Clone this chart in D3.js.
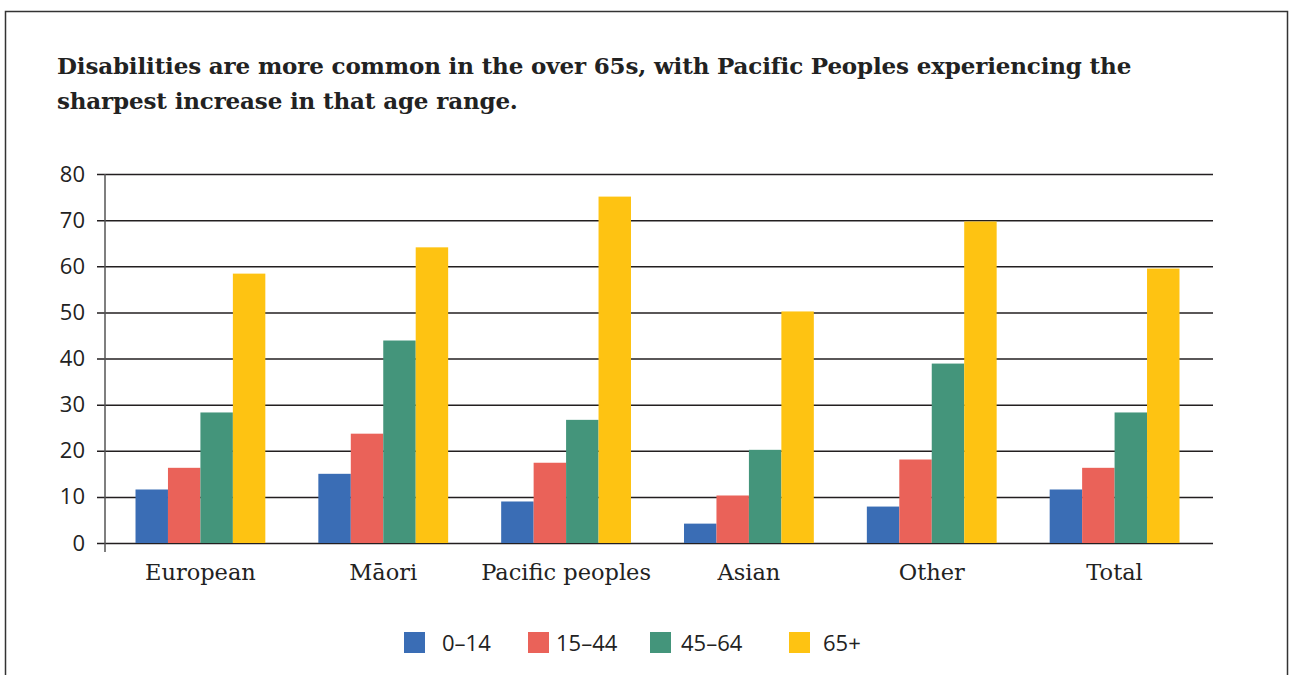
<!DOCTYPE html>
<html>
<head>
<meta charset="utf-8">
<script src="https://cdn.jsdelivr.net/npm/d3@7"></script>
<style>
  body { margin: 0; background: #fff; }
  svg { display: block; }
</style>
</head>
<body>
<div id="chart"></div>
<script>
const categories = ['European', 'Māori', 'Pacific peoples', 'Asian', 'Other', 'Total']
const ageGroups = ['0-14', '15-44', '45-64', '65+']
const age0to14 = [11.6, 15.0, 9.0, 4.2, 7.9, 11.6]
const age15to44 = [16.3, 23.7, 17.4, 10.3, 18.1, 16.3]
const age45to64 = [28.3, 43.9, 26.7, 20.2, 38.9, 28.3]
const age65plus = [58.4, 64.1, 75.1, 50.2, 69.7, 59.5]
const yTicks = [0, 10, 20, 30, 40, 50, 60, 70, 80]
const colors = ['#3a6db5', '#ea6259', '#44957b', '#fec312']

const seriesValues = [age0to14, age15to44, age45to64, age65plus]

function bar_chart(root) {
  const width = 1290,
    height = 675

  const rows = categories.map((name, i) => ({
    name: name,
    values: ageGroups.map((g, j) => ({ group: g, value: seriesValues[j][i] })),
  }))

  const svg = d3
    .select(document.querySelector(`#${root}`))
    .append('svg')
    .attr('width', width)
    .attr('height', height)

  // outer frame
  svg.append('rect')
    .attr('x', 5.5)
    .attr('y', 11.5)
    .attr('width', 1282)
    .attr('height', 700)
    .attr('fill', 'none')
    .attr('stroke', '#333')
    .attr('stroke-width', 1.5)

  // title
  const title = svg.append('text')
    .attr('x', 57)
    .attr('y', 74)
    .attr('font-family', '"DejaVu Serif", serif')
    .attr('font-weight', 'bold')
    .attr('font-size', 23)
    .attr('letter-spacing', -0.15)
    .attr('fill', '#222')
  title.append('tspan').attr('x', 57).attr('dy', 0)
    .text('Disabilities are more common in the over 65s, with Pacific Peoples experiencing the')
  title.append('tspan').attr('x', 57).attr('dy', 35)
    .text('sharpest increase in that age range.')

  const left = 105, right = 1213, gridLeft = 97

  const y = d3.scaleLinear().domain([0, 80]).range([543, 174])

  const x0 = d3.scaleBand()
    .domain(categories)
    .range([109, 1206])
    .paddingInner(0.29)
    .paddingOuter(0.145)

  const x1 = d3.scaleBand()
    .domain(ageGroups)
    .range([0, x0.bandwidth()])

  const color = d3.scaleOrdinal().domain(ageGroups).range(colors)

  // gridlines + y labels
  const yAxis = svg.append('g')
    .attr('transform', `translate(${right}, 0)`)
    .call(d3.axisLeft(y).tickValues(yTicks).tickSize(right - gridLeft).tickPadding(12))
  yAxis.select('.domain').remove()
  yAxis.selectAll('line').attr('stroke', '#231f20').attr('stroke-width', 1.5)
  yAxis.selectAll('text')
    .attr('font-family', '"Open Sans", sans-serif')
    .attr('font-size', 22)
    .attr('fill', '#222')

  // bars
  svg.append('g')
    .selectAll('g')
    .data(rows)
    .enter()
    .append('g')
    .attr('transform', d => `translate(${x0(d.name)}, 0)`)
    .selectAll('rect')
    .data(d => d.values)
    .enter()
    .append('rect')
    .attr('x', d => x1(d.group))
    .attr('width', x1.bandwidth())
    .attr('y', d => y(d.value))
    .attr('height', d => y(0) - y(d.value))
    .attr('fill', d => color(d.group))

  // vertical axis line
  svg.append('line')
    .attr('x1', left).attr('x2', left)
    .attr('y1', y(80)).attr('y2', 552)
    .attr('stroke', '#555')
    .attr('stroke-width', 1.5)

  // category labels
  svg.append('g')
    .selectAll('text')
    .data(categories)
    .enter()
    .append('text')
    .attr('x', d => x0(d) + x0.bandwidth() / 2)
    .attr('y', 580)
    .attr('text-anchor', 'middle')
    .attr('font-family', '"DejaVu Serif", serif')
    .attr('font-size', 22.5)
    .attr('fill', '#222')
    .text(d => d)

  // legend
  const legendX = [404, 528, 650, 789]
  const legendTextGap = [17, 7, 10, 13]
  const legend = svg.append('g')
    .selectAll('g')
    .data(ageGroups)
    .enter()
    .append('g')
    .attr('transform', (d, i) => `translate(${legendX[i]}, 632)`)
  legend.append('rect')
    .attr('width', 21)
    .attr('height', 21)
    .attr('fill', d => color(d))
  legend.append('text')
    .attr('x', (d, i) => 21 + legendTextGap[i])
    .attr('y', 19)
    .attr('font-family', '"Open Sans", sans-serif')
    .attr('font-size', 22)
    .attr('fill', '#222')
    .text(d => d.replace('-', '–'))
}

bar_chart('chart')
</script>
</body>
</html>
